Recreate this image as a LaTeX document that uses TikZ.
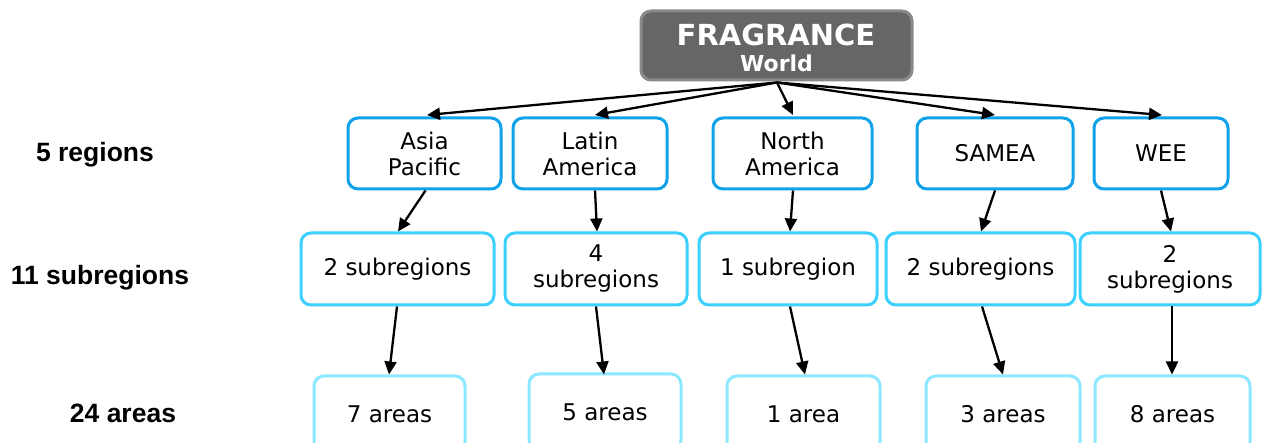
\documentclass[tikz,border=0pt]{standalone}
\usepackage{fontspec}
\setmainfont{DejaVu Sans}
\newfontfamily\labfont{Liberation Sans}
\usetikzlibrary{arrows.meta}
\definecolor{topfill}{HTML}{666666}
\definecolor{topdraw}{HTML}{8A8A8A}
\definecolor{regcol}{HTML}{12A2EA}
\definecolor{subcol}{HTML}{3CD0FF}
\definecolor{areacol}{HTML}{8CE8FF}
\tikzset{
  box/.style={rectangle, rounded corners=10pt, line width=3pt, fill=white,
    align=center, font=\fontsize{23}{26}\selectfont, inner sep=0pt},
  regbox/.style={box, draw=regcol, minimum height=71pt},
  subbox/.style={box, draw=subcol, minimum height=72pt},
  areabox/.style={box, draw=areacol, minimum height=76pt},
  topbox/.style={rectangle, rounded corners=10pt, line width=3pt, fill=topfill,
    draw=topdraw, align=center, text=white, minimum width=271pt, minimum height=69pt,
    font=\bfseries\fontsize{22}{28}\selectfont},
  lab/.style={font=\labfont\bfseries\fontsize{26.5}{30}\selectfont, anchor=center},
  arr/.style={line width=2.3pt, -{Triangle[length=13pt,width=12pt]}}
}
\begin{document}
\begin{tikzpicture}[x=1pt,y=-1pt]
\clip (0,0) rectangle (1266,443);
\fill[white] (0,0) rectangle (1266,443);

\node[topbox] (top) at (776.5,45.5) {};
\node[font=\bfseries\fontsize{29}{30}\selectfont, text=white, inner sep=0pt] (ttl) at (776,35) {FRAGRANCE};
\node[font=\bfseries\fontsize{22}{24}\selectfont, text=white, inner sep=0pt] (wld) at (776.5,63.5) {World};

% regions
\node[regbox, minimum width=153pt] (r1) at (424.5,153.5) {Asia\\Pacific};
\node[regbox, minimum width=154pt] (r2) at (590,153.5) {Latin\\America};
\node[regbox, minimum width=159pt] (r3) at (792.5,153.5) {North\\America};
\node[regbox, minimum width=156pt] (r4) at (995,153.5) {SAMEA};
\node[regbox, minimum width=134pt] (r5) at (1161,153.5) {WEE};

% subregions
\node[subbox, minimum width=193pt] (s1) at (397.5,269) {2 subregions};
\node[subbox, minimum width=182pt] (s2) at (596,269) {4\\subregions};
\node[subbox, minimum width=178pt] (s3) at (788,269) {1 subregion};
\node[subbox, minimum width=189pt] (s4) at (980.5,269) {2 subregions};
\node[subbox, minimum width=180pt] (s5) at (1170,269) {2\\subregions};

% areas
\node[areabox, minimum width=151pt] (a1) at (389.5,414) {7 areas};
\node[areabox, minimum width=152pt] (a2) at (605,412) {5 areas};
\node[areabox, minimum width=153pt] (a3) at (803.5,414) {1 area};
\node[areabox, minimum width=154pt] (a4) at (1003,414) {3 areas};
\node[areabox, minimum width=155pt] (a5) at (1172.5,414) {8 areas};

% left labels
\node[lab] (l1) at (95,155) {5 regions};
\node[lab] (l2) at (100,278) {11 subregions};
\node[lab] (l3) at (123,413) {24 areas};

% arrows top -> regions
\coordinate (t0) at ([xshift=0.5pt,yshift=-1pt]top.south);
\draw[arr] (t0) -- ([xshift=2.5pt,yshift=1.5pt]r1.north);
\draw[arr] (t0) -- ([xshift=5pt,yshift=1.5pt]r2.north);
\draw[arr] (t0) -- ([xshift=0.5pt,yshift=1.5pt]r3.north);
\draw[arr] (t0) -- ([xshift=0pt,yshift=1.5pt]r4.north);
\draw[arr] (t0) -- ([xshift=1pt,yshift=1.5pt]r5.north);

% regions -> subregions
\draw[arr] ([xshift=1pt]r1.south) -- ([xshift=0.5pt]s1.north);
\draw[arr] ([xshift=5pt]r2.south) -- ([xshift=1pt]s2.north);
\draw[arr] ([xshift=0.5pt]r3.south) -- ([xshift=2pt]s3.north);
\draw[arr] ([xshift=0pt]r4.south) -- ([xshift=0.5pt]s4.north);
\draw[arr] ([xshift=0pt]r5.south) -- ([xshift=1pt]s5.north);

% subregions -> areas
\draw[arr] ([xshift=-0.5pt]s1.south) -- ([xshift=-0.5pt]a1.north);
\draw[arr] ([xshift=0pt]s2.south) -- ([xshift=-1pt,yshift=-2pt]a2.north);
\draw[arr] ([xshift=2pt]s3.south) -- ([xshift=1.5pt]a3.north);
\draw[arr] ([xshift=1.5pt]s4.south) -- ([xshift=0pt]a4.north);
\draw[arr] ([xshift=2pt]s5.south) -- ([xshift=-0.5pt]a5.north);
\end{tikzpicture}
\end{document}
